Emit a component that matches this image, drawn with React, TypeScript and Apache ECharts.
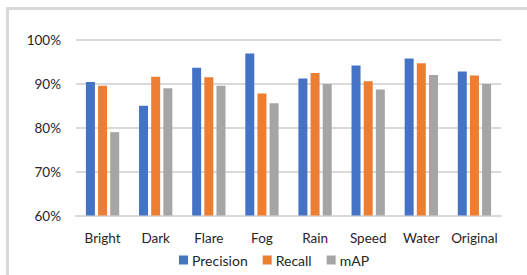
import React, { useEffect, useRef } from "react";
import * as echarts from "echarts";

const categories = ["Bright", "Dark", "Flare", "Fog", "Rain", "Speed", "Water", "Original"];
const precision = [90.4, 85.0, 93.7, 96.9, 91.2, 94.2, 95.8, 92.8];
const recall = [89.6, 91.6, 91.5, 87.8, 92.5, 90.6, 94.7, 91.9];
const mAP = [79.0, 89.0, 89.6, 85.6, 90.0, 88.7, 92.0, 90.0];
const seriesNames = ["Precision", "Recall", "mAP"];
const colors = ["#4472C4", "#ED7D31", "#A5A5A5"];

export default function App() {
  const ref = useRef<HTMLDivElement>(null);
  useEffect(() => {
    if (!ref.current) return;
    const chart = echarts.init(ref.current, null, { renderer: "svg" });
    const font = "Lato, 'Open Sans', sans-serif";
    const data = [precision, recall, mAP];
    chart.setOption({
      animation: false,
      backgroundColor: "#ffffff",
      textStyle: { fontFamily: font },
      graphic: [
        { type: "rect", shape: { x: 6, y: 7, width: 530, height: 3 }, style: { fill: "#d9d9d9" }, silent: true },
        { type: "rect", shape: { x: 6, y: 7, width: 3, height: 280 }, style: { fill: "#d9d9d9" }, silent: true },
      ],
      grid: { left: 76, right: 26, top: 40, bottom: 59.5, containLabel: false },
      legend: {
        data: seriesNames,
        bottom: 3,
        left: 174,
        itemWidth: 9,
        itemHeight: 9,
        itemGap: 15,
        icon: "rect",
        textStyle: { fontFamily: font, fontSize: 14, color: "#262626", padding: [0, 0, 0, -1] },
      },
      xAxis: {
        type: "category",
        data: categories,
        axisTick: { show: false },
        axisLine: { lineStyle: { color: "#d9d9d9", width: 2 } },
        axisLabel: { color: "#262626", fontSize: 13.5, fontFamily: font, margin: 15, interval: 0 },
      },
      yAxis: {
        type: "value",
        min: 60,
        max: 100,
        interval: 10,
        axisLine: { show: false },
        axisTick: { show: false },
        axisLabel: { color: "#262626", fontSize: 13.5, fontFamily: font, margin: 15, formatter: "{value}%" },
        splitLine: { lineStyle: { color: "#d9d9d9", width: 2 } },
      },
      series: seriesNames.map((name, i) => ({
        name,
        type: "bar",
        data: data[i],
        barWidth: 9,
        barGap: "35%",
        itemStyle: { color: colors[i] },
      })),
    });
    return () => chart.dispose();
  }, []);
  return (
    <div
      ref={ref}
      style={{ position: "fixed", left: 0, top: 0, width: 527, height: 275 }}
    />
  );
}
